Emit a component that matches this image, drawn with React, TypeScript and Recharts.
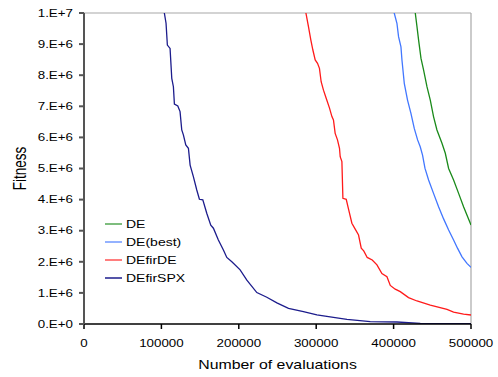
import React from 'react';
import { LineChart, Line, XAxis, YAxis, ReferenceLine, Legend } from 'recharts';

const xTicks = [0, 100000, 200000, 300000, 400000, 500000];
const yTicks = [0, 1e6, 2e6, 3e6, 4e6, 5e6, 6e6, 7e6, 8e6, 9e6, 1e7];

const deX = [427100, 428000, 430200, 432300, 435400, 438700, 443100, 447400, 451600, 456000, 462500, 466800, 471100, 477500, 484000, 490400, 500000];
const deY = [10.16e6, 10.0e6, 9.56e6, 9.13e6, 8.54e6, 8.17e6, 7.63e6, 7.2e6, 6.67e6, 6.24e6, 5.81e6, 5.49e6, 5.0e6, 4.63e6, 4.2e6, 3.77e6, 3.18e6];

const deBestX = [398200, 400800, 404300, 406400, 409500, 410800, 413800, 418000, 422400, 426700, 431000, 434400, 437400, 440500, 445200, 451600, 458100, 464600, 471100, 477500, 482700, 488400, 494800, 500000];
const deBestY = [10.26e6, 10.0e6, 9.67e6, 9.24e6, 8.91e6, 8.49e6, 7.74e6, 7.2e6, 6.77e6, 6.29e6, 5.92e6, 5.7e6, 5.43e6, 5.01e6, 4.63e6, 4.2e6, 3.77e6, 3.38e6, 3.02e6, 2.7e6, 2.43e6, 2.16e6, 1.95e6, 1.82e6];

const firDEX = [285000, 286700, 290000, 293100, 295700, 298700, 301700, 304200, 306400, 309400, 312900, 317200, 320300, 322300, 324500, 327500, 330100, 331000, 333200, 334500, 338800, 341700, 346100, 350400, 354700, 358200, 361400, 365900, 372400, 378500, 384900, 391400, 395700, 402100, 408600, 419300, 430200, 447400, 469000, 477500, 490400, 500000];
const firDEY = [10.3e6, 10.0e6, 9.56e6, 9.13e6, 8.81e6, 8.49e6, 8.38e6, 8.22e6, 7.79e6, 7.52e6, 7.26e6, 6.94e6, 6.67e6, 6.56e6, 6.13e6, 5.92e6, 5.65e6, 5.38e6, 5.22e6, 4.04e6, 4.01e6, 3.7e6, 3.24e6, 3.05e6, 2.86e6, 2.44e6, 2.35e6, 2.14e6, 2.06e6, 1.9e6, 1.62e6, 1.52e6, 1.24e6, 1.12e6, 1.04e6, 0.85e6, 0.74e6, 0.61e6, 0.47e6, 0.38e6, 0.32e6, 0.29e6];

const firSPXX = [102000, 103800, 106000, 107700, 111200, 113400, 115500, 116800, 121200, 124100, 126300, 128400, 131500, 134900, 137100, 141300, 145700, 149100, 153500, 158600, 163800, 167200, 173600, 180100, 184500, 191000, 201700, 210400, 223300, 236200, 249200, 264200, 283500, 300900, 322300, 339700, 369800, 404300, 434500, 500000];
const firSPXY = [10.6e6, 10.0e6, 9.67e6, 8.97e6, 8.86e6, 7.9e6, 7.63e6, 7.07e6, 7.01e6, 6.83e6, 6.24e6, 6.08e6, 5.76e6, 5.65e6, 5.11e6, 4.74e6, 4.31e6, 4.01e6, 3.99e6, 3.56e6, 3.18e6, 3.08e6, 2.7e6, 2.38e6, 2.14e6, 2.0e6, 1.74e6, 1.41e6, 1.01e6, 0.86e6, 0.68e6, 0.5e6, 0.4e6, 0.29e6, 0.215e6, 0.15e6, 0.074e6, 0.064e6, 0.022e6, 0.01e6];

const seriesNames = ['DE', 'DE(best)', 'DEfirDE', 'DEfirSPX'];
const seriesColors = ['#1a8a1a', '#4277ff', '#ff1a1a', '#1c1c8c'];

const toPoints = (xs: number[], ys: number[]) => xs.map((x, i) => ({ x, y: ys[i] }));
const seriesData = [
  toPoints(deX, deY),
  toPoints(deBestX, deBestY),
  toPoints(firDEX, firDEY),
  toPoints(firSPXX, firSPXY),
];

const FONT = '"Liberation Sans", Arial, sans-serif';
const SX = 1.31;

const fmtY = (v: number) => {
  if (v === 0) return '0.E+0';
  const e = Math.floor(Math.log10(v) + 1e-9);
  const m = Math.round(v / Math.pow(10, e));
  return `${m}.E+${e}`;
};

const XTick = (props: any) => {
  const { x, y, payload } = props;
  return (
    <g transform={`translate(${x},${y + 16}) scale(${SX},1)`}>
      <text x={0} y={0} textAnchor="middle" fontSize={10.2} fontFamily={FONT} fill="#000">
        {payload.value}
      </text>
    </g>
  );
};

const YTick = (props: any) => {
  const { x, y, payload } = props;
  return (
    <g transform={`translate(${x},${y + 3.7}) scale(${SX},1)`}>
      <text x={0} y={0} textAnchor="end" fontSize={10.2} fontFamily={FONT} fill="#000">
        {fmtY(payload.value)}
      </text>
    </g>
  );
};

const XLabel = (props: any) => {
  const vb = props.viewBox || { x: 84, y: 324, width: 387, height: 53 };
  return (
    <g transform={`translate(${vb.x + vb.width / 2},${vb.y + 45}) scale(1.27,1)`}>
      <text x={0} y={0} textAnchor="middle" fontSize={12.5} fontFamily={FONT} fill="#000">
        Number of evaluations
      </text>
    </g>
  );
};

const YLabel = (props: any) => {
  const vb = props.viewBox || { x: 0, y: 13, width: 84, height: 311 };
  return (
    <g transform={`translate(26,${vb.y + vb.height / 2}) scale(1.31,1) rotate(-90)`}>
      <text x={0} y={0} textAnchor="middle" fontSize={13.5} fontFamily={FONT} fill="#000">
        Fitness
      </text>
    </g>
  );
};

const LegendContent = () => (
  <svg width={100} height={80} style={{ display: 'block', overflow: 'visible' }}>
    {seriesNames.map((name, i) => {
      const cy = 10 + i * 18;
      return (
        <g key={name}>
          <line x1={5} x2={22} y1={cy} y2={cy} stroke={seriesColors[i]} strokeWidth={1.5} opacity={i === 3 ? 1 : 0.75} />
          <g transform={`translate(26,${cy + 3.9}) scale(${SX},1)`}>
            <text x={0} y={0} fontSize={10.7} fontFamily={FONT} fill="#000">{name}</text>
          </g>
        </g>
      );
    })}
  </svg>
);

export default function App() {
  return (
    <div style={{ position: 'absolute', left: 0, top: 0, width: 498, height: 377, background: '#fff' }}>
      <LineChart width={498} height={377} margin={{ top: 13, right: 27, bottom: 0, left: 0 }}>
        <XAxis
          type="number"
          dataKey="x"
          domain={[0, 500000]}
          ticks={xTicks}
          allowDataOverflow
          height={53}
          tickSize={5}
          tickMargin={2}
          stroke="#000"
          strokeWidth={1.5}
          tick={<XTick />}
          label={<XLabel />}
        />
        <YAxis
          type="number"
          dataKey="y"
          domain={[0, 1e7]}
          ticks={yTicks}
          allowDataOverflow
          width={84}
          tickSize={5}
          tickMargin={6}
          stroke="#555"
          strokeWidth={2}
          tick={<YTick />}
          label={<YLabel />}
        />
        <ReferenceLine y={1e7} stroke="#a8a8a8" strokeWidth={1.2} />
        <ReferenceLine x={500000} stroke="#a8a8a8" strokeWidth={1.2} />
        {seriesData.map((d, i) => (
          <Line
            key={seriesNames[i]}
            data={d}
            dataKey="y"
            name={seriesNames[i]}
            type="linear"
            stroke={seriesColors[i]}
            strokeWidth={1.3}
            dot={false}
            activeDot={false}
            isAnimationActive={false}
          />
        ))}
        <Legend
          layout="vertical"
          align="center"
          verticalAlign="middle"
          wrapperStyle={{ left: 100, top: 214, width: 100, height: 80 }}
          content={<LegendContent />}
        />
      </LineChart>
    </div>
  );
}
